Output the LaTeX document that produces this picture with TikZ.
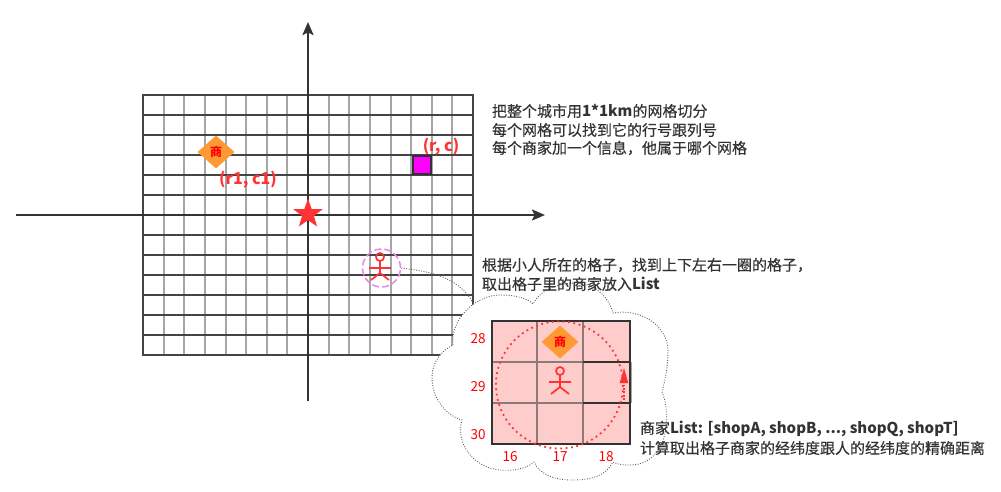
\documentclass[tikz,border=0pt]{standalone}
\usepackage{fontspec}
\setmainfont[Script=CJK,Language=Chinese Simplified]{Noto Sans CJK SC}
\newfontfamily\notefont[Script=CJK,Language=Chinese Simplified,FakeBold=0.35]{Noto Sans CJK SC}
\newfontfamily\latinbold[Script=CJK,Language=Chinese Simplified,UprightFont=* Bold]{Noto Sans CJK SC}
\usetikzlibrary{arrows.meta,shapes.geometric}
\definecolor{ink}{HTML}{333333}
\definecolor{gridh}{HTML}{444444}
\definecolor{gridv}{HTML}{A6A6A6}
\definecolor{redc}{HTML}{FF3333}
\definecolor{orangec}{HTML}{FF9933}
\definecolor{pinkc}{HTML}{FFCCCC}
\definecolor{magc}{HTML}{FF00FF}
\definecolor{violetc}{HTML}{EE88EE}
\definecolor{cellc}{HTML}{8F7A7A}
\tikzset{
  x=1pt,y=-1pt,
  axisline/.style={draw=ink,line width=2pt,-{Stealth[length=13pt,width=11pt,inset=2.5pt]}},
  cloudline/.style={draw=ink!80,line width=.9pt,dash pattern=on .9pt off 1.6pt},
  note/.style={anchor=west,inner sep=0pt,outer sep=0pt,text=ink,font=\fontsize{15}{17}\selectfont\notefont},
  coord/.style={inner sep=0pt,text=redc,font=\fontsize{16}{18}\selectfont\bfseries},
  num/.style={inner sep=0pt,text=red,font=\fontsize{13.5}{15}\selectfont},
  shopnode/.style={diamond,fill=orangec,inner sep=0pt,minimum width=37pt,minimum height=33pt,text=red,font=\fontsize{12}{13}\selectfont\bfseries},
  personline/.style={draw=redc,line width=1.7pt},
  cellline/.style={draw=cellc,line width=2pt},
}
\newcommand{\persondraw}[2]{%
  \draw[personline] (#1,#2-11) circle[radius=4];
  \draw[personline] (#1,#2-7) -- (#1,#2+5) (#1-11,#2) -- (#1+11,#2)
    (#1-9,#2+12) -- (#1,#2+5) -- (#1+9,#2+12);
}
\newcommand{\bl}[1]{{\normalfont\fontsize{15}{17}\selectfont\bfseries #1}}
\begin{document}
\begin{tikzpicture}
\useasboundingbox (0,0) rectangle (1001,492);
% grid
\foreach \i in {1,...,15} \draw[gridv,line width=2pt] ({143+\i*20.625},95) -- ({143+\i*20.625},355);
\foreach \j in {1,...,12} \draw[gridh,line width=1.5pt] (143,{95+\j*20}) -- (473,{95+\j*20});
\draw[gridh,line width=1.5pt] (143,95) rectangle (473,355);
% axes
\coordinate (xs) at (16,215); \coordinate (xe) at (545,215);
\coordinate (ys) at (308,401); \coordinate (ye) at (308,22);
\draw[axisline] (xs) -- (xe);
\draw[axisline] (ys) -- (ye);
\node[star,star points=5,star point ratio=2.5,fill=redc,minimum size=31pt,inner sep=0pt] (origin) at (308,214) {};
% shop, cell and labels on the map
\node[shopnode] (shop1) at (216,152) {商};
\node[coord] (r1c1) at (248,180) {(r1, c1)};
\node[draw=ink,line width=2pt,fill=magc,minimum size=18pt,inner sep=0pt] (cell) at (422,165) {};
\node[coord] (rc) at (441,147) {(r, c)};
% person on the map
\persondraw{380}{268}
\node[circle,draw=violetc,line width=1.6pt,dash pattern=on 7pt off 3pt,minimum size=38pt,inner sep=0pt] (ring) at (381.5,268) {};
% callout connector
\coordinate (cloudtop) at (473,303);
\draw[cloudline] (ring.east) .. controls (425,271) and (458,275) .. (cloudtop);
% cloud
\path[fill=white] (453,345) .. controls (450,320) and (475,295) .. (500,295)
  .. controls (515,295) and (527,298) .. (533,304)
  .. controls (540,290) and (558,283) .. (575,283)
  .. controls (593,283) and (608,295) .. (613,313)
  .. controls (640,308) and (667,325) .. (668,350)
  .. controls (668,368) and (665,380) .. (662,392)
  .. controls (672,415) and (668,465) .. (630,465)
  .. controls (625,465) and (618,465) .. (613,462)
  .. controls (605,477) and (590,480) .. (572,480)
  .. controls (555,480) and (540,475) .. (534,462)
  .. controls (525,470) and (510,471) .. (500,470)
  .. controls (475,468) and (455,445) .. (462,420)
  .. controls (445,415) and (432,398) .. (432,377)
  .. controls (432,362) and (442,350) .. (453,345) -- cycle;
\draw[cloudline] (453,345) .. controls (450,320) and (475,295) .. (500,295)
  .. controls (515,295) and (527,298) .. (533,304)
  .. controls (540,290) and (558,283) .. (575,283)
  .. controls (593,283) and (608,295) .. (613,313)
  .. controls (640,308) and (667,325) .. (668,350)
  .. controls (668,368) and (665,380) .. (662,392)
  .. controls (672,415) and (668,465) .. (630,465)
  .. controls (625,465) and (618,465) .. (613,462)
  .. controls (605,477) and (590,480) .. (572,480)
  .. controls (555,480) and (540,475) .. (534,462)
  .. controls (525,470) and (510,471) .. (500,470)
  .. controls (475,468) and (455,445) .. (462,420)
  .. controls (445,415) and (432,398) .. (432,377)
  .. controls (432,362) and (442,350) .. (453,345) -- cycle;
% enlarged cells
\fill[pinkc] (492,321) rectangle (630,444);
\draw[cellline] (537,321) -- (537,444) (583,321) -- (583,444) (492,362) -- (583,362) (492,403) -- (583,403);
\draw[gridv,line width=1pt] (631.5,362) -- (631.5,403);
\draw[ink,line width=2pt] (583,362) -- (631,362) (583,403) -- (631,403);
\draw[ink,line width=2pt] (492,321) rectangle (630,444);
% search circle
\coordinate (sc) at (559.5,385);
\draw[redc,line width=1.8pt,dash pattern=on 1.8pt off 3.6pt] (sc) circle[radius=63.5];
\coordinate (as) at (624,400); \coordinate (ab) at (624,383); \coordinate (ae) at (624,368);
\draw[redc,line width=1.8pt,dash pattern=on 1.8pt off 1.6pt] (as) -- (ab);
\fill[redc] (ae) -- (628.3,383) -- (619.7,383) -- cycle;
\node[shopnode] (shop2) at (560,342) {商};
\persondraw{560}{382}
% row and column numbers
\node[num] (n28) at (478,339) {28};
\node[num] (n29) at (478,387) {29};
\node[num] (n30) at (478,435) {30};
\node[num] (n16) at (510,457) {16};
\node[num] (n17) at (560,457) {17};
\node[num] (n18) at (606,457) {18};
% notes
\node[note] (t1) at (492,111) {把整个城市用\bl{1*1km}的网格切分};
\node[note] (t2) at (492,130) {每个网格可以找到它的行号跟列号};
\node[note] (t3) at (492,148) {每个商家加一个信息，他属于哪个网格};
\node[note] (t4) at (482,265) {根据小人所在的格子，找到上下左右一圈的格子，};
\node[note] (t5) at (482,284) {取出格子里的商家放入\bl{List}};
\node[note] (t6) at (640,429) {商家\bl{List: [shopA, shopB, ..., shopQ, shopT]}};
\node[note] (t7) at (640,448) {计算取出格子商家的经纬度跟人的经纬度的精确距离};
\end{tikzpicture}
\end{document}
